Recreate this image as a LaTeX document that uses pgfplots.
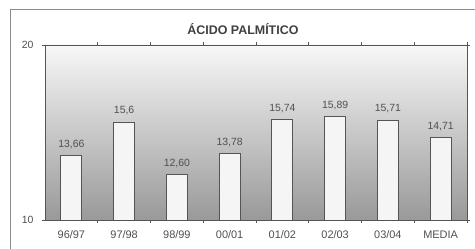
\documentclass[border=0pt]{standalone}
\usepackage{pgfplots}
\pgfplotsset{compat=1.18}
\usepackage{fontspec}
\setmainfont{Liberation Sans}
\definecolor{txt}{HTML}{505050}
\definecolor{ax}{HTML}{555555}
\begin{document}
\begin{tikzpicture}
\useasboundingbox (0,0) rectangle (475bp,249bp);
\draw[black!45, line width=0.9bp] (10bp,0) -- (10bp,240bp) -- (475bp,240bp);
\begin{axis}[
  at={(45bp,29bp)}, anchor=south west,
  scale only axis, width=422bp, height=175bp,
  xmin=-0.5, xmax=7.5, ymin=10, ymax=20,
  axis background/.style={shade, top color=black!3, bottom color=black!40},
  axis line style={ax, line width=0.8bp},
  xtick={0,...,7},
  xticklabels={96/97,97/98,98/99,00/01,01/02,02/03,03/04,MEDIA},
  major x tick style={draw=none},
  minor xtick={0.5,1.5,...,6.5,7.5},
  minor tick length=3bp,
  tick align=outside,
  ytick={10,20},
  major tick length=3bp,
  tick style={ax, line width=0.8bp},
  ticklabel style={txt, font=\fontsize{10.5}{12}\selectfont},
  /pgf/number format/assume math mode=true,
  xticklabel style={yshift=-4bp, font=\fontsize{11}{12}\selectfont},
  yticklabel style={xshift=-5bp},
  title={ÁCIDO PALMÍTICO},
  title style={at={(0.469,1)}, anchor=south, yshift=1bp, text=black!75, font=\bfseries\fontsize{12.5}{14}\selectfont},
  point meta=explicit symbolic,
  nodes near coords,
  every node near coord/.append style={txt, font=\fontsize{10.5}{11}\selectfont, yshift=3bp},
]
\addplot[ybar, bar width=21bp, draw=ax, line width=0.9bp, fill=white!96!black] coordinates {
(0,13.66) [13,66]
(1,15.6) [15,6]
(2,12.60) [12,60]
(3,13.78) [13,78]
(4,15.74) [15,74]
(5,15.89) [15,89]
(6,15.71) [15,71]
(7,14.71) [14,71]
};
\end{axis}
\end{tikzpicture}
\end{document}
